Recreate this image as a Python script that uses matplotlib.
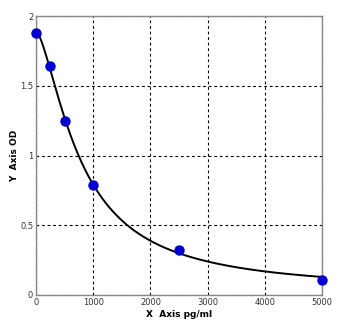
import numpy as np
import matplotlib
matplotlib.use("Agg")
import matplotlib.pyplot as plt

# Standard curve points
conc = np.array([0, 250, 500, 1000, 2500, 5000], dtype=float)
od = np.array([1.88, 1.64, 1.25, 0.79, 0.325, 0.11])

x_ticks = [0, 1000, 2000, 3000, 4000, 5000]
y_ticks = [0, 0.5, 1, 1.5, 2]


def four_pl(x, p):
    a, b, c, d = p
    return d + (a - d) / (1.0 + (x / c) ** b)


# Fit a 4-parameter logistic by damped Gauss-Newton
p = np.array([1.9, 1.45, 790.0, 0.0])
for _ in range(200):
    r = od - four_pl(conc, p)
    J = np.zeros((len(conc), 4))
    for i in range(4):
        dp = np.zeros(4)
        dp[i] = 1e-6 * max(abs(p[i]), 1.0)
        J[:, i] = (four_pl(conc, p + dp) - four_pl(conc, p)) / dp[i]
    step = np.linalg.solve(J.T @ J + 1e-3 * np.eye(4), J.T @ r)
    p = p + 0.5 * step

xs = np.linspace(0, 5000, 400)
ys = four_pl(xs, p)

fig = plt.figure(figsize=(3.52, 3.26), dpi=100)
ax = fig.add_axes([36 / 352, 1 - 295 / 326, 286 / 352, 279 / 326])

ax.plot(xs, ys, color="black", lw=1.4, zorder=2)
ax.plot(conc, od, "o", color="#0000d0", ms=6.5, mec="#0000d0", zorder=3, clip_on=False)

ax.set_xlim(0, 5000)
ax.set_ylim(0, 2)
ax.set_xticks(x_ticks)
ax.set_yticks(y_ticks)
ax.set_xticklabels([str(t) for t in x_ticks])
ax.set_yticklabels(["0", "0.5", "1", "1.5", "2"])
ax.tick_params(length=0, labelsize=6, pad=2, colors="#333333")
ax.grid(True, color="black", linestyle=(0, (2.5, 2.5)), lw=0.8)
for s in ax.spines.values():
    s.set_color("#888888")
    s.set_linewidth(1.0)

ax.set_xlabel("X  Axis pg/ml", fontsize=6.5, fontweight="bold", labelpad=2)
ax.set_ylabel("Y  Axis OD", fontsize=6.5, fontweight="bold", labelpad=1)

fig.savefig("out.png", dpi=100)
